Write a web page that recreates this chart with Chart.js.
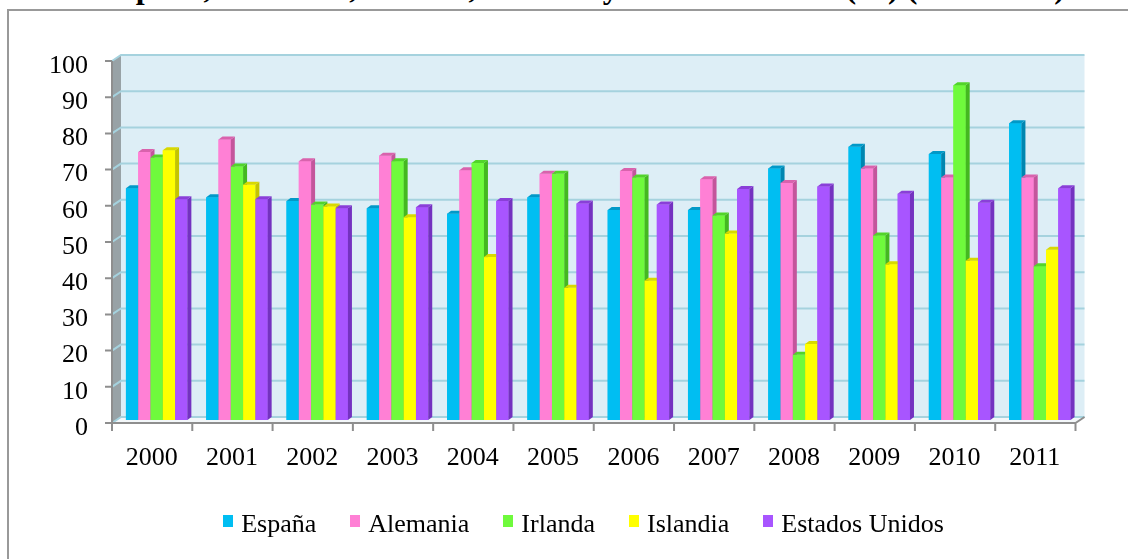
<!DOCTYPE html>
<html>
<head>
<meta charset="utf-8">
<script src="https://cdn.jsdelivr.net/npm/chart.js@4"></script>
<style>
  html, body { margin: 0; padding: 0; background: #fff; }
  body { width: 1128px; height: 559px; overflow: hidden; position: relative; font-family: "Liberation Serif", "Times New Roman", serif; color: #000; }
  #frame { position: absolute; left: 7px; top: 9px; width: 1300px; height: 700px; border-left: 2px solid #999; border-top: 2px solid #999; }
  #title { position: absolute; left: 0; width: 1167px; top: -29px; text-align: center; font-weight: bold; font-size: 32px; line-height: 32px; white-space: nowrap; }
  #chart { position: absolute; left: 0; top: 0; }
  #legend { position: absolute; left: 0; width: 1167px; top: 509px; display: flex; justify-content: center; font-size: 26px; line-height: 30px; white-space: nowrap; }
  .item { display: flex; margin: 0 17px; }
  .box { width: 10px; height: 12px; margin: 6px 8px 0 0; }
</style>
</head>
<body>
<div id="frame"></div>
<div id="title">España, Alemania, Irlanda, Islandia y Estados Unidos (%) (2000-2011)</div>
<canvas id="chart" width="1128" height="559"></canvas>
<div id="legend"></div>

<script>
const years = ['2000', '2001', '2002', '2003', '2004', '2005', '2006', '2007', '2008', '2009', '2010', '2011'];
const seriesNames = ['España', 'Alemania', 'Irlanda', 'Islandia', 'Estados Unidos'];

const espana   = [64, 61.5, 60.5, 58.5, 57, 61.5, 58, 58, 69.5, 75.5, 73.5, 82];
const alemania = [74, 77.5, 71.5, 73, 69, 68, 68.8, 66.5, 65.5, 69.5, 67, 67];
const irlanda  = [72.5, 70, 59.5, 71.5, 71, 68, 67, 56.5, 18, 51, 92.5, 42.5];
const islandia = [74.5, 65, 59, 56, 45, 36.5, 38.5, 51.5, 21, 43, 44, 47];
const eeuu     = [61, 61, 58.5, 58.8, 60.5, 59.8, 59.5, 63.8, 64.5, 62.5, 60, 64];
const series = [espana, alemania, irlanda, islandia, eeuu];

const yMin = 0, yMax = 100, yStep = 10;

const colors     = ['#00bef2', '#ff80d5', '#6ffa3c', '#ffff00', '#a855ff'];
const topColors  = ['#0099c8', '#d962ad', '#52d42a', '#d8d800', '#8a3fd8'];
const sideColors = ['#0086b0', '#c4559c', '#44b820', '#c4c400', '#7432c0'];

// half depth of the plot box, and depth of each column
const DX = 4.5, DY = 3;
const BX = 4, BY = 3;

function poly(ctx, pts, fill) {
  ctx.beginPath();
  ctx.moveTo(pts[0][0], pts[0][1]);
  for (let i = 1; i < pts.length; i++) ctx.lineTo(pts[i][0], pts[i][1]);
  ctx.closePath();
  ctx.fillStyle = fill;
  ctx.fill();
}

const depthPlugin = {
  id: 'depth',
  beforeDatasetsDraw(chart) {
    const { ctx, chartArea: a, scales: { x, y } } = chart;
    ctx.save();
    // back wall, side wall, floor
    ctx.fillStyle = '#ddeef6';
    ctx.fillRect(a.left + DX, a.top - DY, a.right - a.left, a.bottom - a.top);
    poly(ctx, [[a.left - DX, a.top + DY], [a.left + DX, a.top - DY], [a.left + DX, a.bottom - DY], [a.left - DX, a.bottom + DY]], '#98a2a6');
    poly(ctx, [[a.left - DX, a.bottom + DY], [a.left + DX, a.bottom - DY], [a.right + DX, a.bottom - DY], [a.right - DX, a.bottom + DY]], '#f3f7f9');

    // grid lines on side and back wall
    ctx.strokeStyle = '#a5d2de';
    ctx.lineWidth = 2;
    y.ticks.forEach(t => {
      const py = y.getPixelForValue(t.value);
      ctx.beginPath();
      ctx.moveTo(a.left - DX, py + DY);
      ctx.lineTo(a.left + DX, py - DY);
      ctx.lineTo(a.right + DX, py - DY);
      ctx.stroke();
    });

    // front axes with tick marks
    ctx.strokeStyle = '#8e8e8e';
    ctx.beginPath();
    ctx.moveTo(a.left - DX, a.top + DY);
    ctx.lineTo(a.left - DX, a.bottom + DY);
    ctx.lineTo(a.right - DX, a.bottom + DY);
    ctx.lineTo(a.right + DX, a.bottom - DY);
    y.ticks.forEach(t => {
      const py = y.getPixelForValue(t.value) + DY;
      ctx.moveTo(a.left - DX - 7, py);
      ctx.lineTo(a.left - DX, py);
    });
    for (let k = 0; k <= years.length; k++) {
      const px = x.getPixelForValue(k - 0.5) - DX;
      ctx.moveTo(px, a.bottom + DY);
      ctx.lineTo(px, a.bottom + DY + 8);
    }
    ctx.stroke();
    ctx.restore();
  },
  afterDatasetsDraw(chart) {
    const ctx = chart.ctx;
    ctx.save();
    chart.data.datasets.forEach((ds, i) => {
      chart.getDatasetMeta(i).data.forEach(bar => {
        const { x, y, base, width } = bar.getProps(['x', 'y', 'base', 'width'], true);
        const l = x - width / 2, r = x + width / 2;
        ctx.fillStyle = colors[i];
        ctx.fillRect(l, y, width, base - y);
        poly(ctx, [[r, y], [r + BX, y - BY], [r + BX, base - BY], [r, base]], sideColors[i]);
        poly(ctx, [[l, y], [l + BX, y - BY], [r + BX, y - BY], [r, y]], topColors[i]);
      });
    });
    ctx.restore();
  }
};

const tickFont = { family: 'Liberation Serif', size: 26 };

new Chart(document.getElementById('chart'), {
  type: 'bar',
  data: {
    labels: years,
    datasets: seriesNames.map((name, i) => ({
      label: name,
      data: series[i],
      backgroundColor: colors[i],
      borderWidth: 0,
      categoryPercentage: 0.765,
      barPercentage: 1
    }))
  },
  options: {
    responsive: false,
    animation: false,
    devicePixelRatio: 1,
    layout: { padding: { left: 0, top: 58, right: 48, bottom: 69 } },
    plugins: {
      legend: { display: false },
      tooltip: { enabled: false }
    },
    scales: {
      x: {
        grid: { display: false, drawTicks: false },
        border: { display: false },
        ticks: { font: tickFont, color: '#000', padding: 23, labelOffset: -5 },
        afterFit(s) { s.height = 70; }
      },
      y: {
        min: yMin,
        max: yMax,
        grid: { display: false, drawTicks: false },
        border: { display: false },
        ticks: { stepSize: yStep, font: tickFont, color: '#000', padding: 28.5, labelOffset: 8 },
        afterFit(s) { s.width = 116.5; }
      }
    }
  },
  plugins: [depthPlugin]
});

// legend
const legend = document.getElementById('legend');
seriesNames.forEach((name, i) => {
  const item = document.createElement('div');
  item.className = 'item';
  const box = document.createElement('span');
  box.className = 'box';
  box.style.background = colors[i];
  const label = document.createElement('span');
  label.textContent = name;
  item.appendChild(box);
  item.appendChild(label);
  legend.appendChild(item);
});
</script>
</body>
</html>
